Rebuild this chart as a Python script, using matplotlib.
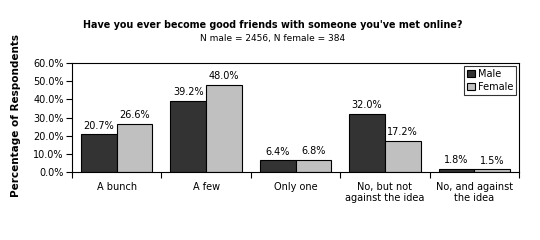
import matplotlib
matplotlib.use('Agg')
import matplotlib.pyplot as plt
import numpy as np

categories = ['A bunch', 'A few', 'Only one', 'No, but not\nagainst the idea', 'No, and against\nthe idea']
male = [20.7, 39.2, 6.4, 32.0, 1.8]
female = [26.6, 48.0, 6.8, 17.2, 1.5]
yticks = [0, 10, 20, 30, 40, 50, 60]

plt.rcParams['font.family'] = ['DejaVu Sans']
plt.rcParams['font.size'] = 7

fig = plt.figure(figsize=(5.4, 2.4), dpi=100)
ax = fig.add_axes([72/540, 1 - 172/240, 447/540, 109/240])

x = np.arange(len(categories))
w = 0.4
bm = ax.bar(x - w/2, male, w, color='#333333', edgecolor='black', linewidth=0.8, label='Male')
bf = ax.bar(x + w/2, female, w, color='#c0c0c0', edgecolor='black', linewidth=0.8, label='Female')

for bars in (bm, bf):
    for b in bars:
        ax.text(b.get_x() + b.get_width()/2, b.get_height() + 2, '%.1f%%' % b.get_height(),
                ha='center', va='bottom', fontsize=7)

ax.set_xlim(-0.5, len(categories) - 0.5)
ax.set_ylim(0, 60)
ax.set_yticks(yticks)
ax.set_yticklabels(['%.1f%%' % v for v in yticks])
ax.set_xticks(np.arange(len(categories) + 1) - 0.5)
ax.set_xticklabels([])
ax.set_xticks(x, minor=True)
ax.set_xticklabels(categories, minor=True)
ax.tick_params(axis='x', which='minor', length=0, pad=7)
ax.tick_params(axis='x', which='major', length=4, direction='out')
ax.tick_params(axis='y', length=4, direction='out', pad=2)
for s in ax.spines.values():
    s.set_linewidth(0.8)

ax.set_ylabel('Percentage of Respondents', fontweight='bold', fontsize=7.5)
ax.yaxis.set_label_coords(-0.114, 0.52)

fig.text(273/540, 1 - 25/240, "Have you ever become good friends with someone you've met online?",
         ha='center', va='center', fontweight='bold', fontsize=6.9)
fig.text(273/540, 1 - 38/240, 'N male = 2456, N female = 384', ha='center', va='center', fontsize=6.5)

leg = ax.legend(loc='upper right', fontsize=7, frameon=True, fancybox=False, edgecolor='black',
                handlelength=0.8, handleheight=0.8, handletextpad=0.3, borderpad=0.3,
                labelspacing=0.3, borderaxespad=0.3)
leg.get_frame().set_linewidth(0.8)

fig.savefig('out.png', dpi=100)
